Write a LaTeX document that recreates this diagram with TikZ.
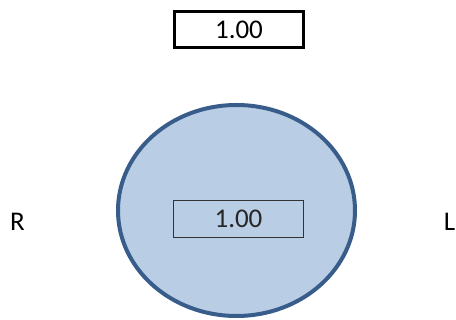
\documentclass[tikz,border=0pt]{standalone}
\usepackage{fontspec}
\setmainfont{Carlito}
\usetikzlibrary{shapes.geometric}

\definecolor{discfill}{HTML}{B9CDE5}
\definecolor{discline}{HTML}{385D8A}

\begin{document}
\begin{tikzpicture}[x=1pt,y=-1pt,
	valbox/.style={draw, rectangle, inner sep=0pt},
	side/.style={inner sep=0pt}]
			\fontsize{27}{32}\selectfont
			\useasboundingbox (0,0) rectangle (456,320);
			\node[valbox, line width=3pt, fill=white, minimum width=129pt, minimum height=36pt] (top) at (239,29.5) {1.00};
			\node[draw=discline, fill=discfill, ellipse, line width=4pt, inner sep=0pt, minimum width=237pt, minimum height=211pt] (disc) at (236.5,210.5) {};
			\node[valbox, draw=black!80, text=black!85, line width=1pt, minimum width=130pt, minimum height=37pt] (inner) at (238.5,219) {1.00};
			\node[side] (right) at (17.5,222) {R};
			\node[side] (left) at (449.5,222) {L};
		\end{tikzpicture}
\end{document}
